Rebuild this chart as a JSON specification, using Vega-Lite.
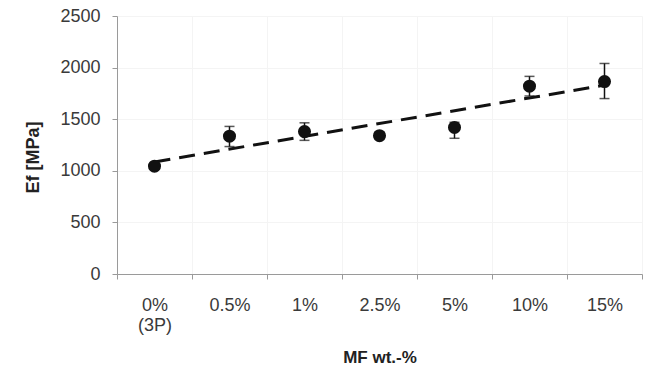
{
  "$schema": "https://vega.github.io/schema/vega-lite/v6.json",
  "width": 525,
  "height": 258,
  "autosize": {"type": "none"},
  "padding": {"left": 117, "top": 16, "right": 10, "bottom": 97},
  "background": "white",
  "config": {
    "view": {"stroke": null},
    "font": "Liberation Sans",
    "axis": {
      "domainColor": "#9a9a9a",
      "tickColor": "#9a9a9a",
      "gridColor": "#f4f4f4",
      "labelColor": "#3a3a3a",
      "titleColor": "#222222",
      "labelFont": "Liberation Sans",
      "titleFont": "Liberation Sans",
      "tickSize": 5
    }
  },
  "datasets": {
    "modulus": [
      {"mf": "0%", "ef": 1045, "lo": 1015, "hi": 1075},
      {"mf": "0.5%", "ef": 1335, "lo": 1235, "hi": 1430},
      {"mf": "1%", "ef": 1380, "lo": 1295, "hi": 1465},
      {"mf": "2.5%", "ef": 1340, "lo": 1305, "hi": 1375},
      {"mf": "5%", "ef": 1420, "lo": 1315, "hi": 1470},
      {"mf": "10%", "ef": 1820, "lo": 1725, "hi": 1915},
      {"mf": "15%", "ef": 1865, "lo": 1700, "hi": 2040}
    ],
    "trend": [
      {"mf": "0%", "ef": 1086},
      {"mf": "15%", "ef": 1830}
    ]
  },
  "encoding": {
    "x": {
      "field": "mf",
      "type": "ordinal",
      "sort": ["0%", "0.5%", "1%", "2.5%", "5%", "10%", "15%"],
      "scale": {"paddingInner": 0, "paddingOuter": 0},
      "axis": {
        "title": "MF wt.-%",
        "titleFontSize": 17,
        "titleFontWeight": "bold",
        "titleBaseline": "alphabetic",
        "titleY": 88,
        "labelAngle": 0,
        "labelFontSize": 18,
        "labelPadding": 17,
        "labelLineHeight": 20,
        "labelExpr": "datum.value == '0%' ? ['0%', '(3P)'] : datum.value",
        "tickBand": "extent",
        "grid": true
      }
    },
    "y": {
      "field": "ef",
      "type": "quantitative",
      "scale": {"domain": [0, 2500], "nice": false},
      "axis": {
        "title": "Ef [MPa]",
        "titleFontSize": 18,
        "titleFontWeight": "bold",
        "titleX": -84,
        "titleY": 141,
        "titleBaseline": "middle",
        "values": [0, 500, 1000, 1500, 2000, 2500],
        "format": "d",
        "labelFontSize": 18,
        "labelPadding": 12,
        "grid": true
      }
    }
  },
  "layer": [
    {
      "data": {"name": "trend"},
      "mark": {"type": "line", "color": "#111111", "strokeWidth": 3, "strokeDash": [16, 9]},
      "encoding": {}
    },
    {
      "data": {"name": "modulus"},
      "mark": {"type": "rule", "color": "#111111", "strokeWidth": 1.5},
      "encoding": {"y": {"field": "lo", "type": "quantitative"}, "y2": {"field": "hi"}}
    },
    {
      "data": {"name": "modulus"},
      "mark": {"type": "tick", "color": "#111111", "thickness": 1.5, "size": 10},
      "encoding": {"y": {"field": "lo", "type": "quantitative"}}
    },
    {
      "data": {"name": "modulus"},
      "mark": {"type": "tick", "color": "#111111", "thickness": 1.5, "size": 10},
      "encoding": {"y": {"field": "hi", "type": "quantitative"}}
    },
    {
      "data": {"name": "modulus"},
      "mark": {"type": "point", "shape": "circle", "filled": true, "color": "#111111", "opacity": 1, "size": 170},
      "encoding": {}
    }
  ]
}
